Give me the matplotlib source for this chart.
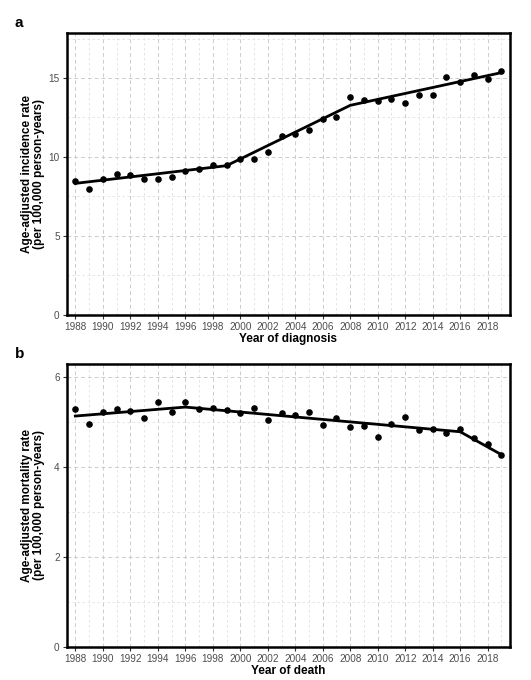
import matplotlib
matplotlib.use("Agg")
import matplotlib.pyplot as plt
from matplotlib.ticker import MultipleLocator

plt.rcParams["font.family"] = ["Liberation Sans", "DejaVu Sans"]

# Datos panel a: incidencia
years = list(range(1988, 2020))
incidence = [8.46, 8.00, 8.59, 8.92, 8.86, 8.63, 8.61, 8.73, 9.11, 9.24,
             9.51, 9.49, 9.85, 9.89, 10.34, 11.33, 11.43, 11.69, 12.38, 12.53,
             13.80, 13.61, 13.54, 13.67, 13.44, 13.92, 13.95, 15.04, 14.75, 15.21,
             14.94, 15.42]
inc_fit_years = [1988, 1999, 2008, 2019]
inc_fit_values = [8.33, 9.45, 13.27, 15.34]

# Datos panel b: mortalidad
mortality = [5.30, 4.97, 5.24, 5.30, 5.26, 5.09, 5.45, 5.22, 5.45, 5.30,
             5.32, 5.27, 5.20, 5.32, 5.05, 5.20, 5.16, 5.23, 4.94, 5.09,
             4.89, 4.92, 4.68, 4.97, 5.11, 4.83, 4.86, 4.77, 4.86, 4.64,
             4.51, 4.28]
mort_fit_years = [1988, 1996, 2016, 2019]
mort_fit_values = [5.14, 5.34, 4.79, 4.28]

xticks = list(range(1988, 2019, 2))


def panel(ax, y, fit_x, fit_y, ymax, ystep, xlabel, ylabel):
    ax.plot(fit_x, fit_y, color="black", lw=2.0, zorder=3)
    ax.scatter(years, y, s=14, color="black", zorder=4)
    ax.set_xlim(1987.37, 2019.63)
    ax.set_ylim(0, ymax)
    ax.set_xticks(xticks)
    ax.xaxis.set_minor_locator(MultipleLocator(1))
    ax.yaxis.set_major_locator(MultipleLocator(ystep))
    ax.yaxis.set_minor_locator(MultipleLocator(ystep / 2))
    ax.grid(which="major", color="#cccccc", ls=(0, (4, 3)), lw=0.7)
    ax.grid(which="minor", color="#e0e0e0", ls=(0, (3, 3)), lw=0.6)
    ax.tick_params(which="major", length=3, width=0.8, color="#333333",
                   labelsize=7.2, labelcolor="#4d4d4d", pad=2)
    ax.tick_params(which="minor", length=0)
    for s in ax.spines.values():
        s.set_linewidth(1.8)
        s.set_color("black")
    ax.set_xlabel(xlabel, fontsize=8.5, fontweight="bold", labelpad=1)
    ax.set_ylabel(ylabel, fontsize=8.5, fontweight="bold", linespacing=0.95)
    ax.yaxis.set_label_coords(-0.05, 0.5)
    ax.set_axisbelow(True)


fig = plt.figure(figsize=(5.31, 6.80), dpi=100)
ax1 = fig.add_axes([0.1256, 0.5368, 0.835, 0.4147])
ax2 = fig.add_axes([0.1256, 0.049, 0.835, 0.4157])

panel(ax1, incidence, inc_fit_years, inc_fit_values, 17.85, 5,
      "Year of diagnosis",
      "Age-adjusted incidence rate\n(per 100,000 person-years)")
panel(ax2, mortality, mort_fit_years, mort_fit_values, 6.3, 2,
      "Year of death",
      "Age-adjusted mortality rate\n(per 100,000 person-years)")

fig.text(0.028, 0.966, "a", fontsize=11, fontweight="bold", va="center")
fig.text(0.028, 0.480, "b", fontsize=11, fontweight="bold", va="center")

fig.savefig("out.png", dpi=100)
